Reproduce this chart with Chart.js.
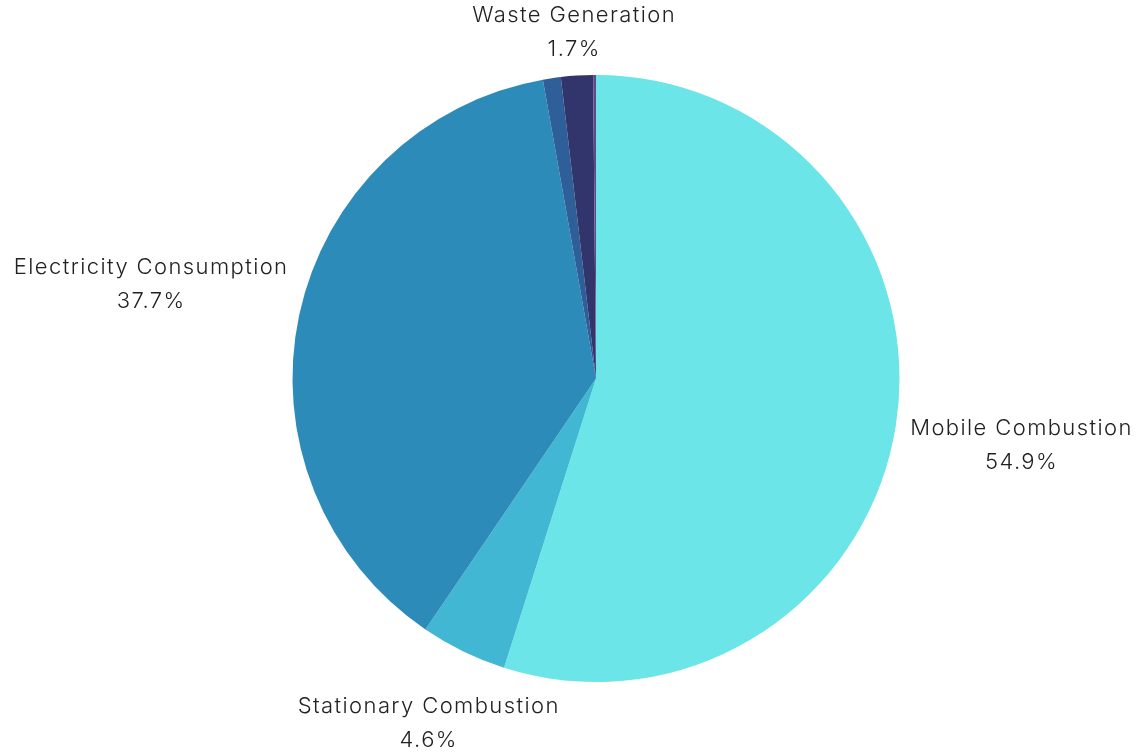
<!DOCTYPE html>
<html lang="en">
<head>
  <meta charset="utf-8" />
  <title>Emissions by source</title>
  <style>
    html, body { margin: 0; padding: 0; background: #fff; }
    #wrap { width: 1144px; height: 752px; }
  </style>
</head>
<body>
  <div id="wrap"><canvas id="pie" width="1144" height="752"></canvas></div>
  <script src="https://cdn.jsdelivr.net/npm/chart.js@4.4.1/dist/chart.umd.min.js"></script>
  <script>
  const categories = ["Mobile Combustion", "Stationary Combustion", "Electricity Consumption", "Business Travel", "Waste Generation", "Fugitive Emissions"];
  const values = [54.9, 4.6, 37.7, 0.95, 1.7, 0.15];
  const colors = ["#6be5e8", "#41b7d4", "#2d8bba", "#2e5f98", "#32356b", "#5f4b8b"];

  const FONT = "300 22px Inter, 'Open Sans', sans-serif";

  // outside labels: name + percent, placed along the slice's mid-angle
  const outsideLabels = {
    id: "outsideLabels",
    afterDatasetsDraw(chart) {
      const ctx = chart.ctx;
      const meta = chart.getDatasetMeta(0);
      const total = values.reduce(function (a, b) { return a + b; }, 0);
      ctx.save();
      ctx.font = FONT;
      if ("letterSpacing" in ctx) ctx.letterSpacing = "1.4px";
      ctx.fillStyle = "#222";
      ctx.textAlign = "center";
      ctx.textBaseline = "middle";
      meta.data.forEach(function (arc, i) {
        const pct = values[i] / total * 100;
        if (pct < 1.5) return;
        const p = arc.getProps(["x", "y", "startAngle", "endAngle", "outerRadius"], true);
        const mid = (p.startAngle + p.endAngle) / 2;
        const dx = Math.cos(mid), dy = Math.sin(mid);
        const l1 = categories[i], l2 = pct.toFixed(1) + "%";
        const w = Math.max(ctx.measureText(l1).width, ctx.measureText(l2).width);
        const h = 54;
        const ext = Math.sqrt(Math.pow(w / 2 * dx, 2) + Math.pow(h / 2 * dy, 2));
        const d = p.outerRadius + 17 + ext;
        const cx = p.x + dx * d, cy = p.y + dy * d;
        ctx.fillText(l1, cx, cy - 16);
        ctx.fillText(l2, cx, cy + 18);
      });
      ctx.restore();
    }
  };

  new Chart(document.getElementById("pie"), {
    type: "pie",
    data: {
      labels: categories,
      datasets: [{ data: values, backgroundColor: colors, borderWidth: 0 }]
    },
    options: {
      responsive: false,
      animation: false,
      layout: { padding: { left: 292.5, right: 244.5, top: 75, bottom: 70 } },
      plugins: { legend: { display: false }, tooltip: { enabled: false } }
    },
    plugins: [outsideLabels]
  });
  </script>
</body>
</html>
